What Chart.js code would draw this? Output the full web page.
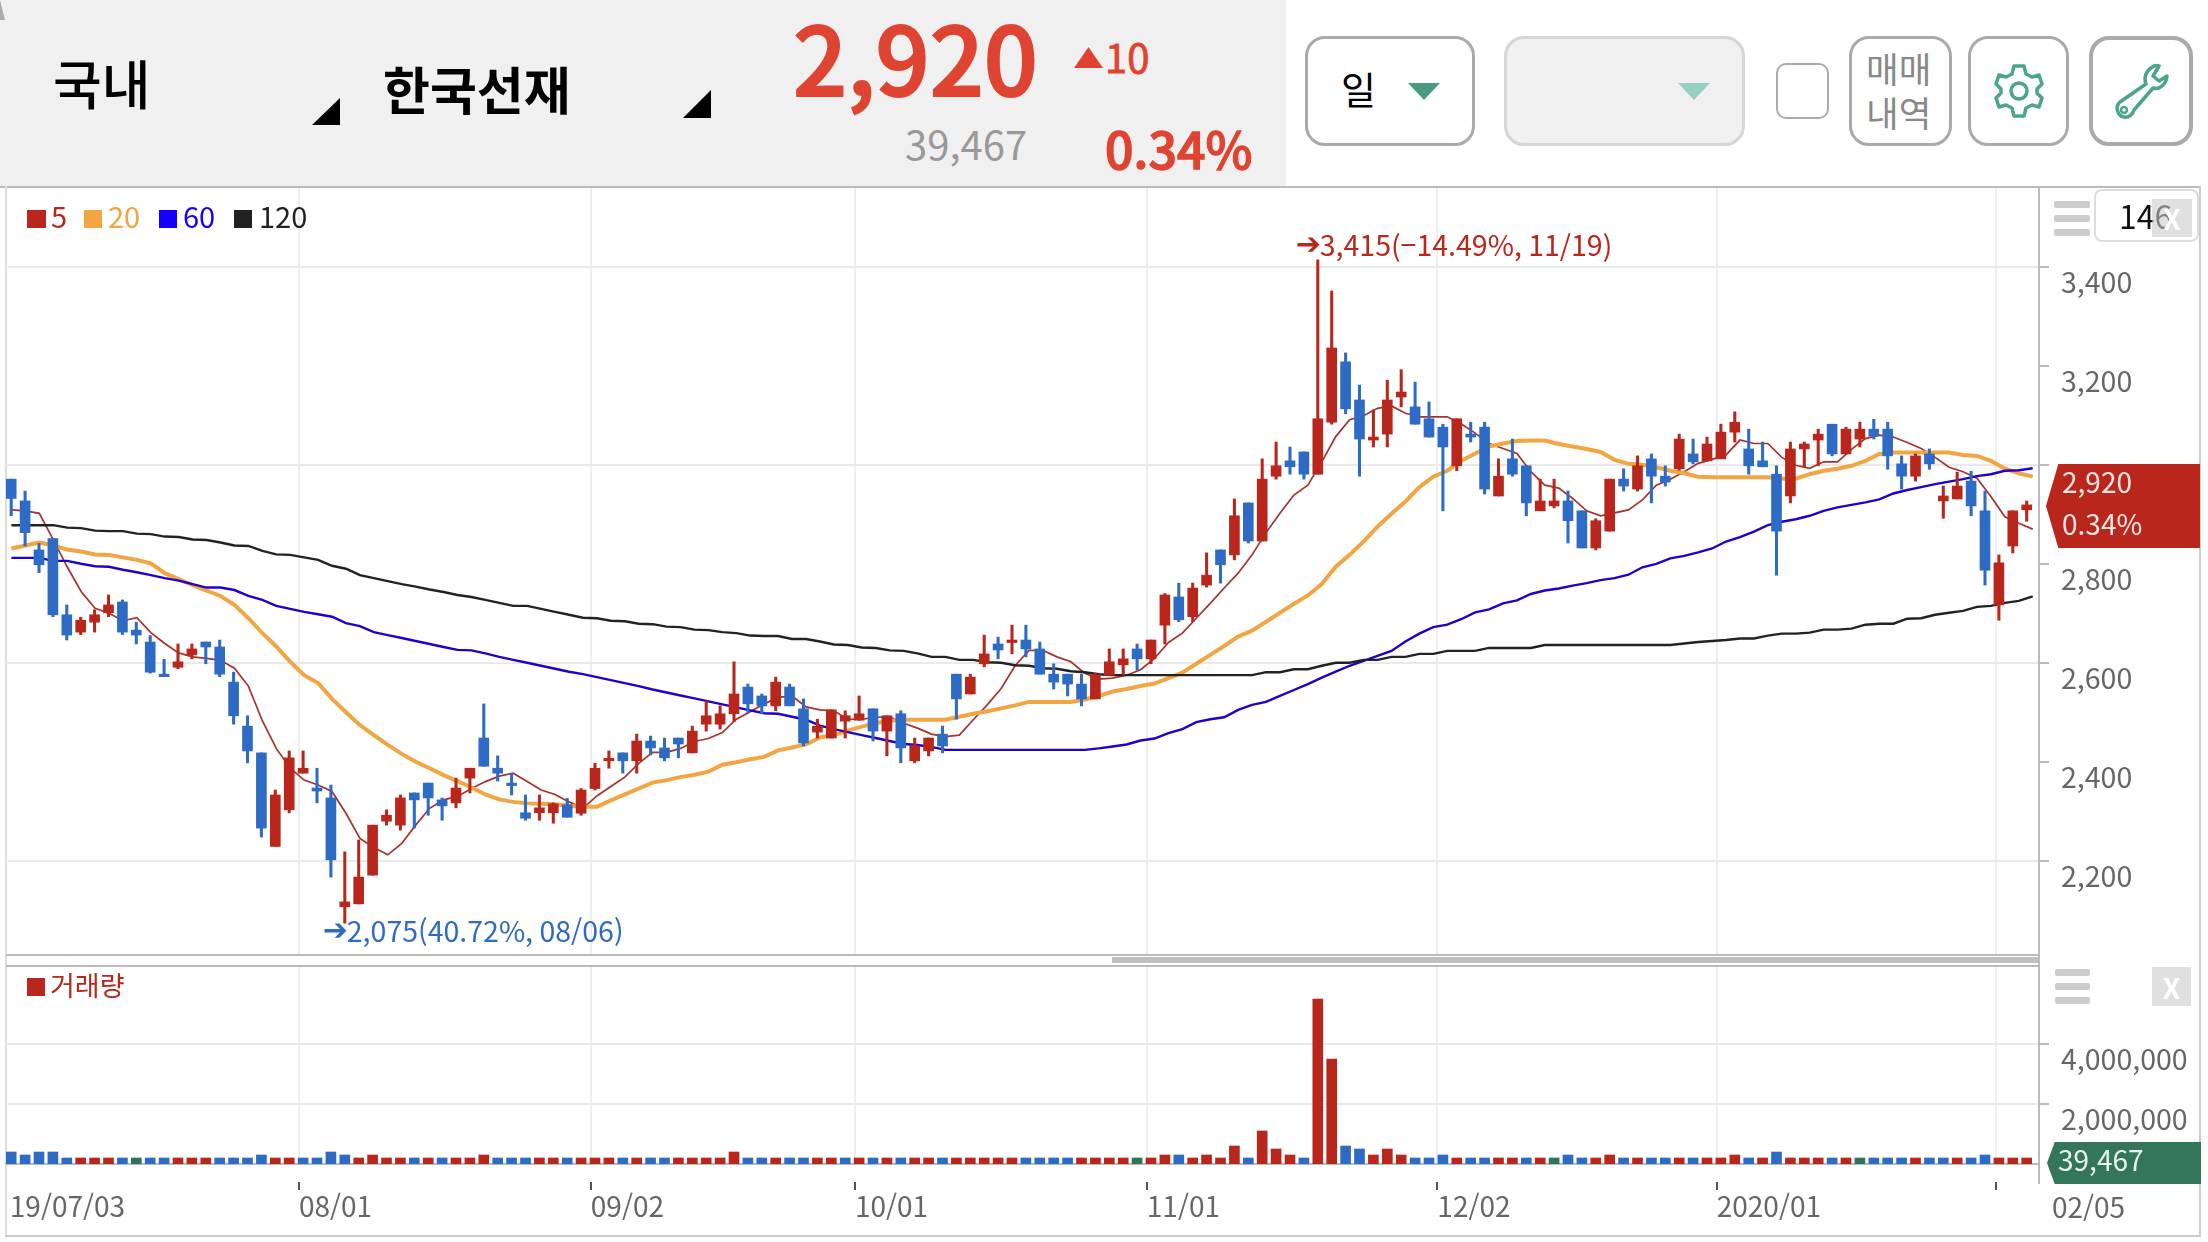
<!DOCTYPE html>
<html lang="ko"><head><meta charset="utf-8">
<script src="https://cdn.jsdelivr.net/npm/chart.js@4"></script>
<style>
html,body{margin:0;padding:0;background:#fff;width:2208px;height:1242px;overflow:hidden;font-family:"Noto Sans CJK KR","Noto Sans",sans-serif}
.a{position:absolute}
.t{position:absolute;white-space:nowrap;line-height:1}
.btn{position:absolute;box-sizing:border-box;border:3px solid #aaa;border-radius:20px;background:#fff;top:36px;height:110px}
.bar{position:absolute;background:#ccc;border-radius:2px}
.xbox{position:absolute;display:flex;align-items:center;justify-content:center;color:#fff;font-weight:700;line-height:1}
canvas{position:absolute;left:0}
</style></head><body>
<div class="a" style="left:0;top:0;width:1286px;height:186px;background:#f0f0f0"></div>
<div class="a" style="left:0;top:0;width:5px;height:20px;background:#aaa;clip-path:polygon(0 0,100% 100%,0 100%,0 0,100% 0)"></div>
<div class="t" style="left:53px;top:56px;font-size:53px;font-weight:500;color:#000">국내</div>
<div class="a" style="left:312px;top:98px;width:28px;height:27px;background:#000;clip-path:polygon(100% 0,100% 100%,0 100%)"></div>
<div class="t" style="left:383px;top:63px;font-size:51px;font-weight:700;color:#000">한국선재</div>
<div class="a" style="left:683px;top:90px;width:28px;height:28px;background:#000;clip-path:polygon(100% 0,100% 100%,0 100%)"></div>
<div class="t" style="left:793px;top:7px;font-size:95px;font-weight:500;color:#df4433;-webkit-text-stroke:2px #df4433">2,920</div>
<div class="a" style="left:1074px;top:47px;width:29px;height:21px;background:#df4433;clip-path:polygon(50% 0,100% 100%,0 100%)"></div>
<div class="t" style="left:1105px;top:36px;font-size:40px;font-weight:400;color:#df4433;-webkit-text-stroke:.8px #df4433">10</div>
<div class="t" style="left:905px;top:123px;font-size:40px;color:#999">39,467</div>
<div class="t" style="left:1105px;top:122px;font-size:50px;font-weight:500;color:#df4433;-webkit-text-stroke:1.4px #df4433">0.34%</div>

<div class="btn" style="left:1305px;width:170px"></div>
<div class="t" style="left:1341px;top:69px;font-size:38px;color:#000">일</div>
<div class="a" style="left:1408px;top:83px;width:32px;height:17px;background:#4a9c80;clip-path:polygon(0 0,100% 0,50% 100%)"></div>
<div class="btn" style="left:1504px;width:241px;background:#f0f0f0;border-color:#d5d5d5"></div>
<div class="a" style="left:1678px;top:83px;width:32px;height:17px;background:#97d0c0;clip-path:polygon(0 0,100% 0,50% 100%)"></div>
<div class="a" style="left:1776px;top:63px;width:53px;height:56px;box-sizing:border-box;border:2px solid #aaa;border-radius:10px;background:#fff"></div>
<div class="btn" style="left:1849px;width:103px"></div>
<div class="t" style="left:1866px;top:50px;font-size:35.5px;color:#888">매매</div>
<div class="t" style="left:1866px;top:94px;font-size:35.5px;color:#888">내역</div>
<div class="btn" style="left:1968px;width:101px"></div>
<svg class="a" style="left:1994px;top:63px" width="50" height="56" viewBox="-1 -1 50 56"><path d="M19 2H29L31 10L37 13L44 11L47 20L42 25V29L47 34L44 43L37 41L31 44L29 52H19L17 44L11 41L4 43L1 34L6 29V25L1 20L4 11L11 13L17 10Z" fill="none" stroke="#4aa58a" stroke-width="3.5" stroke-linejoin="round"/><circle cx="24" cy="27" r="8" fill="none" stroke="#4aa58a" stroke-width="3.5"/></svg>
<div class="btn" style="left:2089px;width:104px;border-width:4px"></div>
<svg class="a" style="left:2115px;top:64px" width="54" height="56" viewBox="0 0 54 56"><path d="M36 4C30 8 29 15 31 20L5 38C0 42 2 52 9 53C14 54 18 50 19 46L38 24C44 26 51 21 52 12L44 17L38 12L44 2C41 1 38 2 36 4Z" fill="none" stroke="#4aa58a" stroke-width="3.5" stroke-linejoin="round"/><circle cx="9" cy="46" r="3" fill="none" stroke="#4aa58a" stroke-width="2.5"/></svg>

<!-- frame -->
<div class="a" style="left:0;top:186px;width:2200px;height:2px;background:#bbb"></div>
<div class="a" style="left:5px;top:186px;width:2px;height:1050px;background:#ddd"></div>
<div class="a" style="left:2199px;top:186px;width:2px;height:1050px;background:#ccc"></div>
<div class="a" style="left:5px;top:1235px;width:2196px;height:2px;background:#ccc"></div>

<canvas id="priceChart" width="2208" height="767" style="top:188px;width:2208px;height:767px"></canvas>
<canvas id="volumeChart" width="2208" height="275" style="top:967px;width:2208px;height:275px"></canvas>

<div class="a" style="left:6px;top:954px;width:2033px;height:2px;background:#bbb"></div>
<div class="a" style="left:6px;top:965px;width:2033px;height:2px;background:#bbb"></div>
<div class="a" style="left:1112px;top:957px;width:927px;height:6px;background:#c0c0c0"></div>
<div class="a" style="left:2038px;top:186px;width:2px;height:998px;background:#bbb"></div>

<!-- legend -->
<div class="a" style="left:27px;top:210px;width:19px;height:18px;background:#b8261c"></div><div class="t" style="left:51px;top:201px;font-size:29px;color:#b8261c">5</div>
<div class="a" style="left:84px;top:210px;width:18px;height:18px;background:#f2a541"></div><div class="t" style="left:108px;top:201px;font-size:29px;color:#f2a541">20</div>
<div class="a" style="left:159px;top:210px;width:18px;height:18px;background:#1400ff"></div><div class="t" style="left:183px;top:201px;font-size:29px;color:#1400ff">60</div>
<div class="a" style="left:234px;top:210px;width:18px;height:18px;background:#222"></div><div class="t" style="left:259px;top:201px;font-size:29px;color:#222">120</div>
<div class="a" style="left:27px;top:978px;width:18px;height:18px;background:#b8261c"></div><div class="t" style="left:50px;top:971px;font-size:27px;color:#b8261c">거래량</div>

<!-- side controls -->
<div class="bar" style="left:2054px;top:201px;width:36px;height:7px"></div><div class="bar" style="left:2054px;top:215px;width:36px;height:7px"></div><div class="bar" style="left:2054px;top:229px;width:36px;height:7px"></div>
<div class="a" style="left:2094px;top:189px;width:105px;height:53px;box-sizing:border-box;border:2px solid #ddd;border-radius:8px;background:#fff"></div>
<div class="t" style="left:2119px;top:199px;font-size:32px;color:#111">146</div>
<div class="xbox" style="left:2152px;top:199px;width:40px;height:38px;background:rgba(204,204,204,.6);font-size:28px">X</div>
<div class="bar" style="left:2055px;top:969px;width:35px;height:7px"></div><div class="bar" style="left:2055px;top:983px;width:35px;height:7px"></div><div class="bar" style="left:2055px;top:997px;width:35px;height:7px"></div>
<div class="xbox" style="left:2152px;top:967px;width:39px;height:39px;background:#e0e0e0;font-size:28px">X</div>

<!-- current value flags -->
<div class="a" style="left:2046px;top:464px;width:154px;height:84px;background:#b8261c;clip-path:polygon(8% 0,100% 0,100% 100%,8% 100%,0 50%)"></div>
<div class="t" style="left:2062px;top:467px;font-size:28px;color:#f4e6e4">2,920</div>
<div class="t" style="left:2062px;top:509px;font-size:28px;color:#f4e6e4">0.34%</div>
<div class="a" style="left:2047px;top:1142px;width:154px;height:42px;background:#34765a;clip-path:polygon(5% 0,100% 0,100% 100%,5% 100%,0 50%)"></div>
<div class="t" style="left:2058px;top:1145px;font-size:28px;color:#e8f2ee">39,467</div>
<div class="t" style="left:2052px;top:1192px;font-size:28px;color:#666">02/05</div>

<script>
// ---------- tick labels ----------
const dateTickIndex = [-0.1, 20.7, 41.7, 60.7, 81.7, 102.6, 122.7, 142.8];
const dateTickLabels = ["19/07/03", "08/01", "09/02", "10/01", "11/01", "12/02", "2020/01", ""];
const priceTicks = [2200, 2400, 2600, 2800, 3000, 3200, 3400];
const volumeTicks = [2000000, 4000000];

// ---------- daily candles ----------
const opens = [
2972,2928,2829,2852,2698,2663,2683,2702,2724,2667,
2643,2578,2592,2617,2643,2633,2562,2473,2419,2230,
2304,2378,2348,2328,2108,2114,2172,2281,2273,2338,
2358,2324,2318,2368,2449,2388,2358,2298,2298,2298,
2314,2297,2347,2403,2419,2403,2443,2429,2449,2419,
2477,2477,2498,2552,2534,2514,2552,2508,2461,2449,
2483,2485,2508,2463,2498,2403,2423,2457,2578,2538,
2599,2639,2642,2647,2629,2578,2578,2558,2528,2576,
2597,2629,2609,2677,2734,2694,2758,2829,2819,2924,
2847,2978,3009,3027,2982,3087,3209,3132,3051,3063,
3138,3118,3094,3077,2999,3063,3077,2938,3013,2999,
2908,2918,2928,2908,2833,2867,2972,2952,3013,2978,
2993,3023,3009,3013,3067,3033,3009,2982,2938,3033,
3051,3083,3023,3053,3073,3073,3003,2978,3023,2928,
2932,2968,2908,2718,2837,2910];
const closes = [
2933,2864,2799,2698,2657,2687,2698,2718,2663,2657,
2582,2573,2603,2629,2633,2578,2494,2423,2267,2334,
2409,2388,2342,2203,2118,2168,2273,2293,2328,2324,
2328,2312,2348,2388,2392,2378,2353,2287,2308,2316,
2289,2344,2388,2408,2403,2443,2429,2409,2437,2463,
2494,2498,2538,2518,2514,2562,2514,2439,2473,2506,
2494,2498,2463,2494,2429,2433,2449,2433,2528,2572,
2619,2627,2647,2629,2578,2562,2558,2528,2577,2603,
2609,2609,2647,2738,2688,2752,2778,2799,2898,2847,
2972,2999,2997,2982,3094,3237,3114,3053,3057,3132,
3148,3083,3057,3037,3094,3057,2952,2978,2982,2924,
2928,2928,2888,2833,2888,2972,2958,2999,2978,2966,
3053,3007,3043,3067,3087,2999,2997,2867,3033,3043,
3063,3023,3073,3073,3059,3019,2978,3019,3003,2938,
2958,2918,2788,2803,2908,2920];
const highs = [
2972,2948,2842,2852,2718,2693,2708,2738,2728,2683,
2656,2608,2639,2639,2643,2647,2582,2494,2419,2344,
2423,2423,2388,2354,2219,2243,2273,2304,2334,2338,
2358,2328,2368,2388,2518,2413,2378,2334,2334,2318,
2327,2347,2398,2423,2419,2457,2453,2449,2449,2473,
2524,2514,2603,2558,2538,2572,2558,2528,2487,2506,
2504,2534,2508,2494,2504,2449,2449,2473,2578,2578,
2657,2653,2677,2677,2643,2599,2578,2578,2580,2629,
2629,2639,2647,2741,2762,2762,2823,2829,2932,2924,
3013,3047,3037,3027,3415,3352,3227,3162,3112,3172,
3193,3168,3128,3083,3094,3087,3087,3013,3053,2999,
2972,2972,2948,2908,2892,2972,2993,3019,3023,2999,
3063,3053,3057,3083,3108,3073,3047,2999,3047,3047,
3073,3083,3077,3087,3093,3087,3019,3023,3033,2958,
2986,2988,2948,2819,2908,2928];
const lows = [
2898,2837,2783,2694,2647,2658,2663,2694,2658,2639,
2580,2573,2589,2609,2599,2573,2477,2399,2249,2230,
2298,2378,2318,2168,2075,2114,2172,2273,2263,2267,
2293,2283,2308,2338,2392,2362,2334,2283,2283,2277,
2289,2293,2344,2388,2378,2378,2415,2403,2409,2419,
2463,2467,2482,2500,2498,2504,2514,2433,2449,2449,
2449,2485,2443,2413,2399,2399,2413,2419,2487,2538,
2593,2609,2619,2613,2578,2548,2534,2514,2528,2576,
2576,2586,2599,2639,2684,2684,2754,2762,2809,2843,
2847,2972,2982,2972,2982,3083,3104,2978,3037,3037,
3118,3083,3057,2908,2989,3047,2942,2938,2978,2898,
2908,2914,2843,2833,2829,2867,2948,2948,2924,2958,
2990,3003,3009,3013,3047,2982,2997,2778,2924,2997,
2999,3019,3023,3037,3053,2992,2952,2968,2992,2893,
2932,2898,2758,2687,2823,2887];

// ---------- moving averages ----------
const ma5 = [
2910,2908,2903,2850,2795,2745,2711,2701,2686,2692,
2662,2640,2621,2613,2610,2606,2590,2554,2484,2428,
2388,2364,2354,2341,2297,2246,2228,2213,2236,2273,
2307,2324,2331,2347,2361,2372,2378,2361,2344,2335,
2320,2307,2332,2351,2370,2398,2420,2420,2428,2442,
2448,2460,2487,2502,2518,2531,2534,2512,2506,2504,
2487,2487,2491,2492,2479,2469,2457,2452,2455,2486,
2516,2549,2595,2626,2626,2613,2603,2580,2568,2570,
2576,2587,2610,2642,2661,2691,2721,2752,2782,2819,
2864,2903,2940,2960,3007,3058,3092,3100,3115,3120,
3105,3098,3098,3098,3084,3065,3044,3034,3024,2987,
2960,2954,2933,2908,2898,2904,2910,2930,2960,2972,
2987,3004,3012,3021,3051,3044,3044,3016,3000,2994,
3007,3007,3032,3054,3061,3057,3046,3034,3016,2996,
2987,2974,2937,2896,2883,2871];
const ma20 = [
2832,2838,2844,2838,2830,2826,2820,2819,2814,2809,
2802,2782,2770,2758,2747,2736,2718,2691,2661,2634,
2603,2576,2560,2528,2501,2475,2455,2435,2417,2401,
2388,2374,2362,2349,2335,2325,2320,2317,2316,2315,
2312,2310,2310,2323,2335,2347,2359,2364,2370,2375,
2381,2395,2400,2406,2411,2424,2430,2436,2450,2455,
2464,2472,2479,2484,2486,2486,2486,2486,2492,2498,
2503,2509,2515,2522,2522,2522,2522,2527,2534,2543,
2548,2554,2559,2570,2581,2599,2617,2635,2654,2666,
2684,2702,2720,2737,2760,2795,2819,2846,2876,2902,
2927,2956,2977,2989,3009,3024,3038,3044,3049,3050,
3050,3043,3038,3033,3027,3011,3003,3001,2996,2989,
2984,2977,2976,2976,2976,2976,2976,2973,2973,2982,
2989,2993,2999,3009,3023,3026,3026,3026,3026,3026,
3021,3019,3009,2993,2984,2977];
const ma60 = [
2813,2813,2813,2807,2807,2801,2796,2795,2789,2784,
2778,2772,2767,2760,2753,2753,2748,2736,2728,2716,
2710,2704,2699,2694,2681,2675,2663,2657,2651,2645,
2639,2633,2627,2626,2620,2613,2607,2601,2595,2589,
2583,2578,2572,2566,2560,2554,2547,2541,2535,2529,
2523,2517,2511,2505,2499,2498,2492,2486,2474,2467,
2461,2455,2449,2443,2437,2435,2431,2425,2425,2425,
2425,2425,2425,2425,2425,2425,2425,2425,2428,2432,
2436,2444,2448,2459,2467,2481,2487,2491,2506,2516,
2522,2534,2546,2558,2571,2583,2595,2605,2615,2625,
2644,2660,2673,2678,2689,2703,2709,2721,2727,2740,
2747,2751,2757,2762,2768,2772,2779,2794,2801,2812,
2817,2824,2832,2846,2855,2866,2879,2886,2891,2898,
2908,2915,2920,2925,2931,2943,2950,2956,2962,2967,
2972,2978,2982,2989,2990,2994];
const ma120 = [
2879,2879,2879,2879,2874,2873,2868,2867,2867,2862,
2861,2856,2855,2850,2849,2844,2838,2837,2827,2820,
2819,2814,2809,2797,2791,2778,2772,2766,2760,2755,
2749,2744,2738,2734,2728,2722,2716,2716,2710,2704,
2698,2692,2691,2686,2685,2680,2679,2674,2673,2668,
2667,2663,2661,2656,2655,2655,2649,2649,2644,2638,
2637,2632,2631,2626,2625,2620,2613,2613,2607,2607,
2602,2601,2596,2595,2590,2589,2584,2582,2578,2576,
2576,2576,2576,2576,2576,2576,2576,2576,2576,2576,
2582,2582,2588,2588,2595,2601,2601,2607,2607,2613,
2613,2619,2619,2625,2625,2625,2631,2631,2631,2631,
2637,2637,2637,2637,2637,2637,2637,2637,2637,2637,
2640,2643,2645,2647,2650,2650,2656,2660,2660,2662,
2668,2668,2670,2678,2680,2680,2690,2691,2698,2702,
2706,2714,2716,2722,2726,2735];

// ---------- volume ----------
const volumes = [
400000,300000,400000,400000,200000,200000,200000,200000,200000,200000,
200000,200000,200000,200000,200000,200000,200000,200000,300000,200000,
200000,200000,200000,400000,300000,200000,300000,200000,200000,200000,
200000,200000,200000,200000,300000,200000,200000,200000,200000,200000,
200000,200000,200000,200000,200000,200000,200000,200000,200000,200000,
200000,200000,400000,200000,200000,200000,200000,200000,200000,200000,
200000,200000,200000,200000,200000,200000,200000,200000,200000,200000,
200000,200000,200000,200000,200000,200000,200000,200000,200000,200000,
200000,200000,200000,300000,300000,200000,300000,200000,600000,200000,
1100000,500000,300000,200000,5500000,3500000,600000,500000,300000,500000,
300000,200000,200000,300000,200000,200000,200000,200000,200000,200000,
200000,200000,300000,200000,200000,300000,200000,200000,200000,200000,
200000,200000,200000,200000,300000,200000,200000,400000,200000,200000,
200000,200000,200000,200000,200000,200000,200000,200000,200000,200000,
200000,200000,300000,200000,200000,200000];
const volumeDirs = ("bbbbb rrr b g bb rrr bbbb rr bbbb rrrr b r b rrr bbb rr b rrr b r bb rrrrr bb r bb rr b r b r b rr b rrrrr bbbb rrrr g rr b rrrr b rrr b rr bb rrr bbb r bb rr b r g bb rr b r bb r b rrr b r b rrr b r g bbb r bb r bb rrr").replace(/ /g,"").split("");

const RED="#b8261c", BLUE="#2e6bc4", GREEN="#2f7358";
const FONT='"Noto Sans CJK KR","Noto Sans",sans-serif';
const idx = opens.map((_,i)=>i);
Chart.defaults.font.family = FONT;
Chart.defaults.animation = false;

const X_MIN=-0.374, X_MAX=145.885;
const AXIS_W=169;
const gridTickSet = dateTickIndex.slice(1);
function noPad(s){ s.paddingLeft=0; s.paddingRight=0; s.paddingTop=0; s.paddingBottom=0; }

function xScaleBase(extra){
  return Object.assign({
    type:"linear", min:X_MIN, max:X_MAX, offset:false,
    afterBuildTicks(s){ s.ticks = dateTickIndex.map(v=>({value:v})); },
    grid:{ offset:false, drawTicks:false,
      color(c){ return c.tick && gridTickSet.includes(c.tick.value) ? "#eeeeee" : "rgba(0,0,0,0)"; },
      lineWidth:2 },
  },extra);
}
function line(data,color,width,label){
  return {type:"line",label,xAxisID:"xLine",data:data.map((y,i)=>({x:i,y})),borderColor:color,borderWidth:width,pointRadius:0,tension:0,order:3,fill:false};
}

const annotations = {
  id:"extremes",
  afterDatasetsDraw(chart){
    const {ctx,scales:{x,y}}=chart;
    const hi=highs.indexOf(Math.max(...highs)), lo=lows.indexOf(Math.min(...lows));
    ctx.save();
    ctx.textBaseline="middle"; ctx.textAlign="left";
    const draw=(i,val,dy,txt,col)=>{
      const px=x.getPixelForValue(i), py=y.getPixelForValue(val)+dy;
      ctx.fillStyle=col;
      ctx.font='bold 30px "DejaVu Sans"'; ctx.textAlign="right"; ctx.fillText("➔",px+3,py+1);
      ctx.font='28.5px '+FONT; ctx.textAlign="left"; ctx.fillText(txt,px+2,py);
    };
    draw(hi,highs[hi],-15,"3,415(−14.49%, 11/19)",RED);
    draw(lo,lows[lo],8,"2,075(40.72%, 08/06)",BLUE);
    ctx.restore();
  }
};

new Chart(document.getElementById("priceChart"),{
  type:"bar",
  data:{datasets:[
    line(ma120,"#222222",2.4,"120"),
    line(ma60,"#2200cc",2.4,"60"),
    line(ma20,"#f2a541",4,"20"),
    line(ma5,"#a5322c",1.7,"5"),
    {type:"bar",label:"wick",order:2,grouped:false,barThickness:2.4,
      data:idx.map(i=>({x:i,y:[lows[i],highs[i]]})),
      backgroundColor:idx.map(i=>closes[i]>=opens[i]?RED:BLUE)},
    {type:"bar",label:"body",order:1,grouped:false,barThickness:10,
      data:idx.map(i=>({x:i,y:[opens[i],closes[i]]})),
      backgroundColor:idx.map(i=>closes[i]>=opens[i]?RED:BLUE)}
  ]},
  options:{
    responsive:false,devicePixelRatio:1,
    layout:{padding:{left:6,top:0,right:0,bottom:0}},
    plugins:{legend:{display:false},tooltip:{enabled:false}},
    scales:{
      x:xScaleBase({ticks:{display:false},border:{display:false},afterFit(s){s.height=1;noPad(s);}}),
      xLine:{type:"linear",display:false,min:-0.387,max:145.45,offset:false},
      y:{position:"right",min:2012.7,max:3560.2,
        afterBuildTicks(s){ s.ticks = priceTicks.map(v=>({value:v})); },
        afterFit(s){ s.width=AXIS_W; noPad(s); },
        border:{display:false},
        grid:{tickLength:10,tickColor:"#bbbbbb",lineWidth:2,
          color(c){ return c.tick && (c.tick.value-2200)%400===0 ? "#e9e9e9" : "rgba(0,0,0,0)"; }},
        ticks:{color:"#666666",font:{size:28.5},padding:12,labelOffset:15,crossAlign:"near",
          callback(v){ return v.toLocaleString("en-US"); }}
      }
    }
  },
  plugins:[annotations]
});

const xMarks = {
  id:"xMarks",
  afterDraw(chart){
    const {ctx,scales:{x}}=chart;
    ctx.save(); ctx.fillStyle="#555";
    gridTickSet.forEach(v=>ctx.fillRect(Math.round(x.getPixelForValue(v))-1,215,2,8));
    ctx.restore();
  }
};

new Chart(document.getElementById("volumeChart"),{
  type:"bar",
  data:{datasets:[{type:"bar",label:"거래량",grouped:false,barThickness:10,
    data:idx.map(i=>({x:i,y:volumes[i]})),
    backgroundColor:volumeDirs.map(d=>d==="r"?RED:d==="g"?GREEN:BLUE)}]},
  options:{
    responsive:false,devicePixelRatio:1,
    layout:{padding:{left:6,top:0,right:0,bottom:0}},
    plugins:{legend:{display:false},tooltip:{enabled:false}},
    scales:{
      x:xScaleBase({
        afterFit(s){ s.height=78; noPad(s); },
        border:{display:true,color:"#b4bcc8",width:2},
        ticks:{display:true,autoSkip:false,maxRotation:0,minRotation:0,align:"start",color:"#666666",font:{size:28},padding:26,
          callback(v,i){ return dateTickLabels[i]; }}
      }),
      y:{position:"right",min:0,max:6566667,
        afterBuildTicks(s){ s.ticks = volumeTicks.map(v=>({value:v})); },
        afterFit(s){ s.width=AXIS_W; noPad(s); },
        border:{display:false},
        grid:{tickLength:10,tickColor:"#bbbbbb",lineWidth:2,color:"#e9e9e9"},
        ticks:{color:"#666666",font:{size:28.5},padding:12,labelOffset:15,crossAlign:"near",
          callback(v){ return v.toLocaleString("en-US"); }}
      }
    }
  },
  plugins:[xMarks]
});
</script>
</body></html>
